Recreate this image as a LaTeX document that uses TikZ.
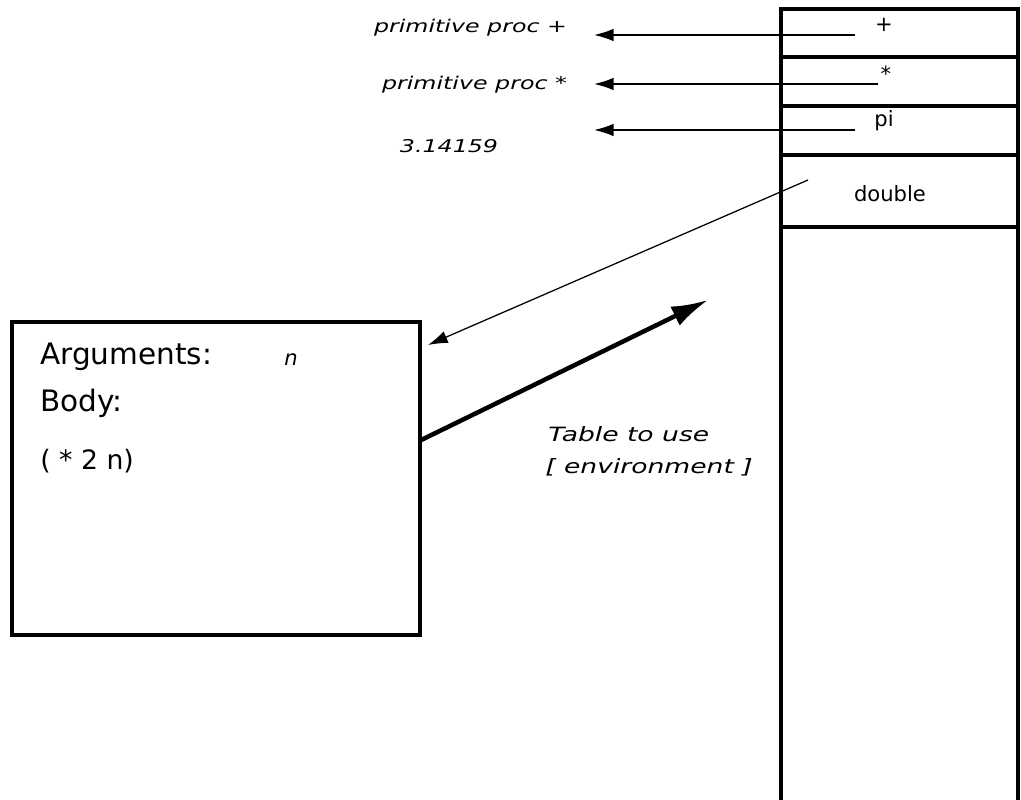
\documentclass[tikz,border=0pt]{standalone}
\usepackage{fontspec}
\setmainfont{DejaVu Sans}
\newfontfamily\wideit[FakeStretch=1.35]{DejaVu Sans}
\usetikzlibrary{arrows.meta, positioning}

\tikzset{
  cell/.style={draw, line width=2.8pt, minimum width=5.925cm, anchor=north west, inner sep=0pt, outer sep=0pt},
  slot/.style={font=\fontsize{15}{17}\selectfont},
  prim/.style={font=\wideit\itshape\fontsize{12.5}{15}\selectfont},
  boxtext/.style={font=\fontsize{21}{24}\selectfont, anchor=west, inner sep=0pt},
  envlabel/.style={font=\wideit\itshape\fontsize{14}{16}\selectfont, anchor=west, inner sep=0pt},
  ptr/.style={-{Latex[length=14pt,width=9pt]}, line width=1.1pt},
  envptr/.style={-{Latex[length=26pt,width=15pt]}, line width=3.2pt}
}

\begin{document}
\begin{tikzpicture}[x=0.025cm, y=-0.025cm]
\useasboundingbox (0,0) rectangle (1021,800);

% Vẽ bảng môi trường
\node[cell, minimum height=1.2cm] (rowplus) at (781,9) {};
\node[cell, minimum height=1.225cm] (rowtimes) at (781,57) {};
\node[cell, minimum height=1.225cm] (rowpi) at (781,106) {};
\node[cell, minimum height=1.8cm] (rowdouble) at (781,155) {};
\draw[line width=2.8pt] (781,227) -- (781,815);
\draw[line width=2.8pt] (1018,227) -- (1018,815);

% Tên trong bảng
\node[slot] (plus) at (884,25) {+};
\node[slot] (times) at (886,74) {*};
\node[slot] (pi) at (884,121) {pi};
\node[slot] (double) at (890,194) {double};

% Giá trị
\node[prim, anchor=east] (primplus) at (572,28) {primitive proc +};
\node[prim, anchor=east] (primtimes) at (572,85) {primitive proc *};
\node[prim, anchor=west] (pinum) at (395,146) {3.14159};

% Các mũi tên từ bảng
\coordinate (plusval) at (855,35);
\coordinate (timesval) at (878,84);
\coordinate (pival) at (855,130);
\coordinate (doubleval) at (808,180);
\coordinate (plustip) at (594,35);
\coordinate (timestip) at (594,84);
\coordinate (pitip) at (594,130);
\draw[ptr] (plusval) -- (plustip);
\draw[ptr] (timesval) -- (timestip);
\draw[ptr] (pival) -- (pitip);

% Hộp thủ tục
\node[draw, line width=3pt, minimum width=10.2cm, minimum height=7.825cm, anchor=north west, inner sep=0pt, outer sep=0pt] (proc) at (12,322) {};
\node[boxtext] (args) at (40,357) {Arguments:};
\node[envlabel, font=\itshape\fontsize{15}{17}\selectfont] (argn) at (284,360) {n};
\node[boxtext] (body) at (40,403) {Body:};
\node[boxtext, font=\fontsize{19}{22}\selectfont] (expr) at (40,461) {( * 2 n)};

% Mũi tên double -> thủ tục
\coordinate (procin) at (428,345);
\draw[ptr, line width=0.9pt] (doubleval) -- (procin);

% Mũi tên đậm tới môi trường
\coordinate (envtip) at (708,300);
\draw[envptr] ([yshift=0.95cm]proc.east) -- (envtip);
\node[envlabel] (envtop) at (548,434) {Table to use};
\node[envlabel] (envbot) at (545,467) {[ environment ]};

\end{tikzpicture}
\end{document}
